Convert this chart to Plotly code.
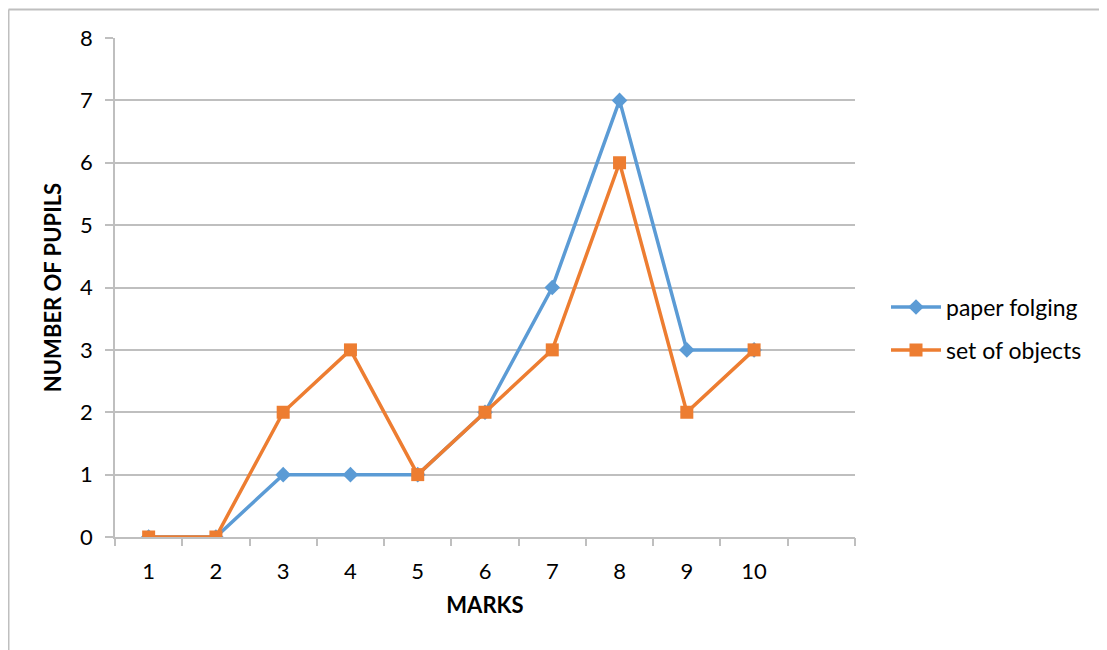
import plotly.graph_objects as go

marks = [1, 2, 3, 4, 5, 6, 7, 8, 9, 10]
paper_folging = [0, 0, 1, 1, 1, 2, 4, 7, 3, 3]
set_of_objects = [0, 0, 2, 3, 1, 2, 3, 6, 2, 3]
y_ticks = [0, 1, 2, 3, 4, 5, 6, 7, 8]

BLUE = "#5B9BD5"
ORANGE = "#ED7D31"
GRID = "#BFBFBF"
FONT = "Lato"

fig = go.Figure()
fig.add_trace(go.Scatter(
    x=marks, y=paper_folging, mode="lines+markers", name="paper folging",
    line=dict(color=BLUE, width=3.5),
    marker=dict(symbol="diamond", size=12, color=BLUE),
    legend="legend",
))
fig.add_trace(go.Scatter(
    x=marks, y=set_of_objects, mode="lines+markers", name="set of objects",
    line=dict(color=ORANGE, width=3.5),
    marker=dict(symbol="square", size=13, color=ORANGE),
    legend="legend2",
))
# invisible trace to activate the tick-mark overlay axis
fig.add_trace(go.Scatter(x=[None], y=[None], xaxis="x2", showlegend=False, hoverinfo="skip"))

# page has an 8px body margin: figure coords = screen coords - 8
OFF = 8
W, H = 1107 - OFF, 650 - OFF
L = 115 - OFF
T = 38 - OFF
PR = 855 - OFF
PB = 537 - OFF
R = W - PR
B = H - PB
pw, ph = PR - L, PB - T

def px_x(sx):
    return (sx - OFF - L) / pw

def px_y(sy):
    return (PB - (sy - OFF)) / ph

fig.update_layout(
    width=W, height=H,
    margin=dict(l=L, r=R, t=T, b=B),
    paper_bgcolor="white", plot_bgcolor="white",
    font=dict(family=FONT, size=22, color="#000000"),
    xaxis=dict(
        range=[0.5, 11.5], tickmode="array", tickvals=marks,
        ticktext=[str(m) for m in marks],
        ticks="outside", ticklen=8, tickcolor="rgba(0,0,0,0)",
        ticklabelstandoff=6,
        showgrid=False, zeroline=False, showline=True, linecolor=GRID, linewidth=1.5,
        title=dict(text="<b>MARKS</b>", font=dict(size=22), standoff=14),
        tickfont=dict(size=22),
    ),
    xaxis2=dict(
        overlaying="x", side="bottom", range=[0.5, 11.5], tickmode="array",
        tickvals=[i + 0.5 for i in range(0, 12)], ticks="outside", ticklen=8,
        tickcolor=GRID, tickwidth=1.5, showticklabels=False, showgrid=False,
        zeroline=False, showline=False,
    ),
    yaxis=dict(
        range=[0, 8], tickmode="array", tickvals=y_ticks,
        ticks="outside", ticklen=8, tickcolor=GRID, tickwidth=1.5,
        ticklabelstandoff=8,
        showgrid=True, gridcolor=GRID, gridwidth=1.5, zeroline=False,
        showline=True, linecolor=GRID, linewidth=1.5,
        title=dict(text="<b>NUMBER OF PUPILS</b>", font=dict(size=22), standoff=12),
        tickfont=dict(size=22),
    ),
    legend=dict(x=px_x(886), y=px_y(307), xanchor="left", yanchor="middle",
                font=dict(size=23), bgcolor="rgba(0,0,0,0)", itemwidth=50),
    legend2=dict(x=px_x(886), y=px_y(350), xanchor="left", yanchor="middle",
                 font=dict(size=23), bgcolor="rgba(0,0,0,0)", itemwidth=50),
    showlegend=True,
    shapes=[
        dict(type="line", xref="paper", yref="paper",
             x0=px_x(8.5), x1=px_x(1120), y0=px_y(9.5), y1=px_y(9.5),
             line=dict(color=GRID, width=2)),
        dict(type="line", xref="paper", yref="paper",
             x0=px_x(8.5), x1=px_x(8.5), y0=px_y(9.5), y1=px_y(660),
             line=dict(color=GRID, width=2)),
    ],
)

fig.write_html("out.html")
